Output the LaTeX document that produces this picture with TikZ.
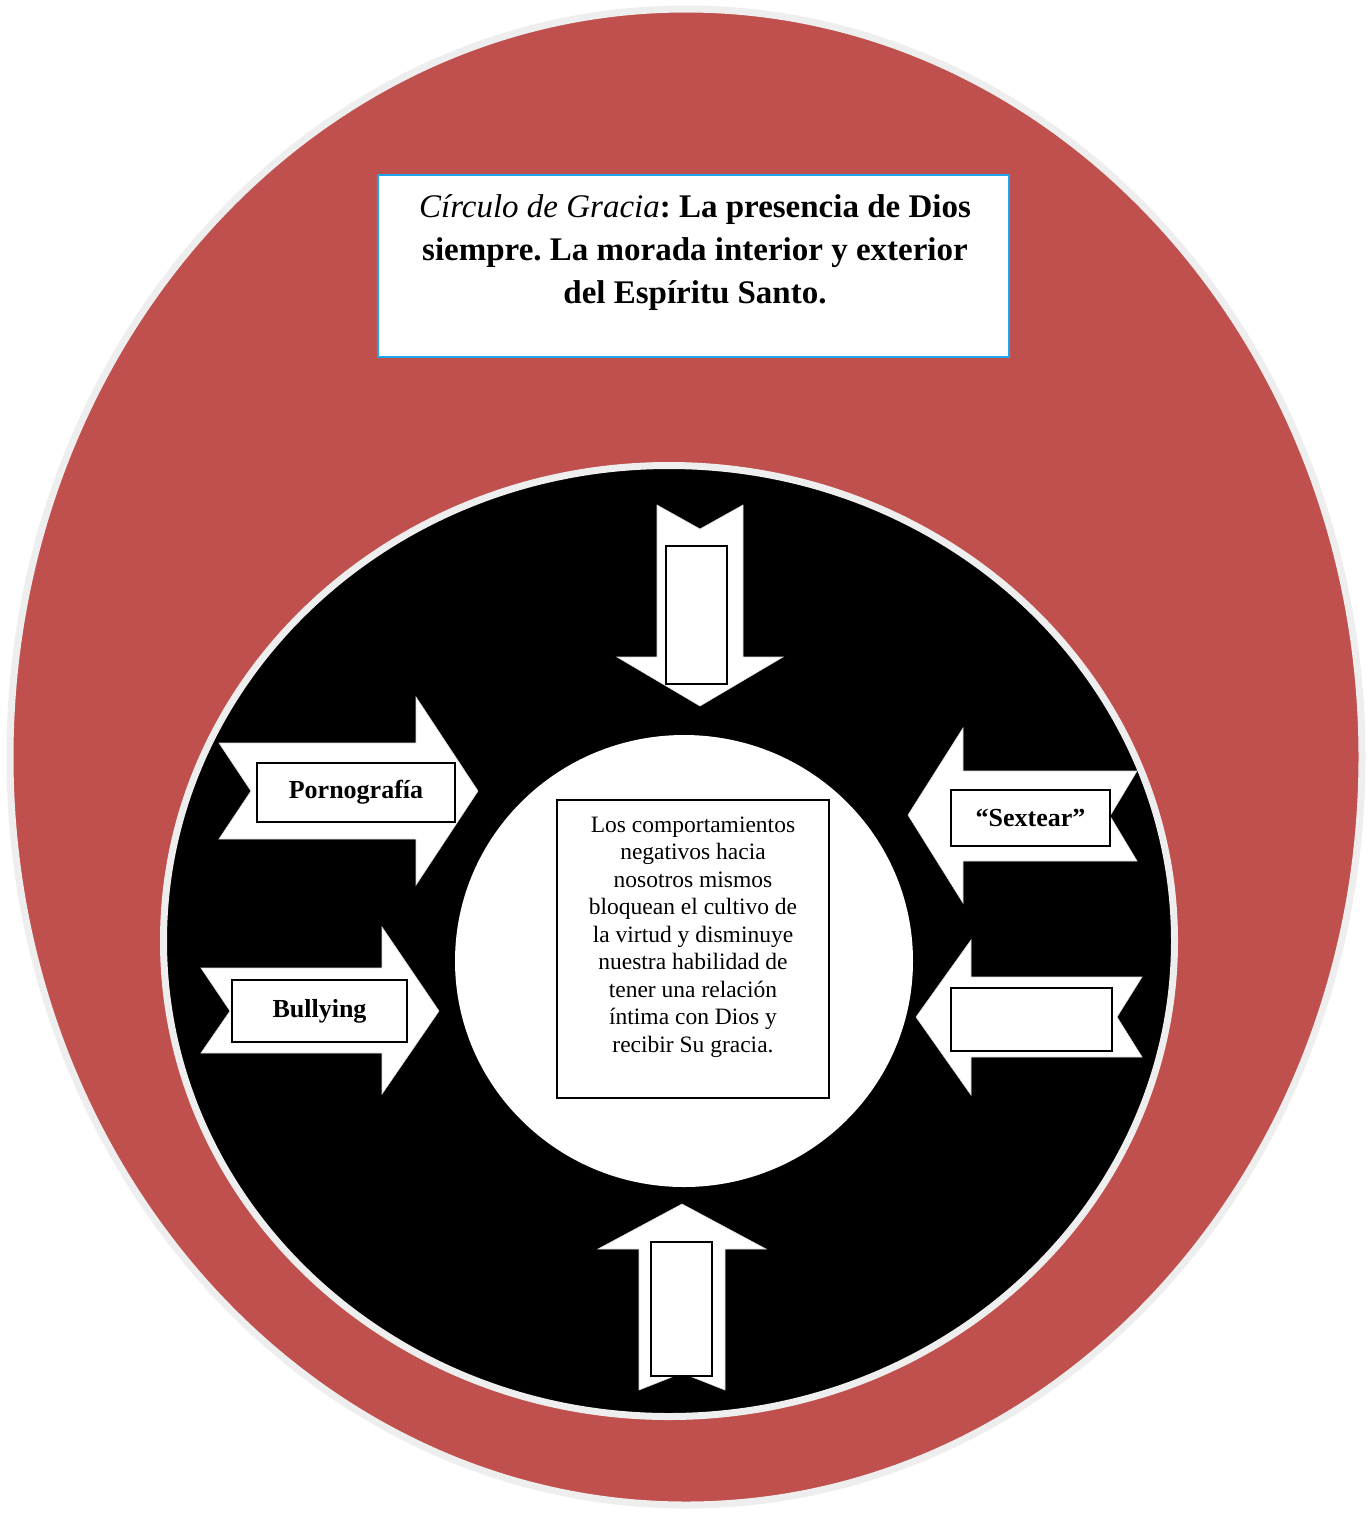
\documentclass[tikz,border=0pt]{standalone}
\usepackage{fontspec}
\setmainfont{Liberation Serif}
\frenchspacing
\definecolor{ringred}{RGB}{192,80,77}
\definecolor{edgegray}{RGB}{238,238,238}
\definecolor{titleblue}{RGB}{30,165,235}
\tikzset{
  arrowshape/.style={fill=white, draw=white!85!black, line width=0.6pt, line join=miter},
  labelbox/.style={draw=black, line width=2pt, fill=white, inner sep=0pt},
}
\begin{document}
\begin{tikzpicture}[x=1pt,y=-1pt]
\useasboundingbox (0,0) rectangle (1372,1516);
% outer circle of grace
\fill[white] (0,0) rectangle (1372,1516);
\draw[fill=ringred, draw=edgegray, line width=7pt] (686,757) ellipse [x radius=676, y radius=748];
% black ring
\draw[fill=black, draw=edgegray, line width=7pt] (669,941) ellipse [x radius=505.5, y radius=475.5];
% white centre
\fill[white] (684,961) ellipse [x radius=229, y radius=226];

% title
\node[draw=titleblue, line width=2pt, fill=white, minimum width=631pt, minimum height=182pt, inner sep=0pt] (title) at (693.5,266) {};
\node[align=center, font=\fontsize{33}{43}\selectfont\bfseries] (titletext) at (695,253)
  {\textit{\mdseries Círculo de Gracia}: La presencia de Dios\\siempre. La morada interior y exterior\\del Espíritu Santo.};

% centre box
\node[draw=black, line width=1.5pt, fill=white, minimum width=272pt, minimum height=298pt, inner sep=0pt] (centre) at (693,949) {};
\node[align=center, font=\fontsize{23.5}{27.5}\selectfont] (centretext) at (693,937)
  {Los comportamientos\\negativos hacia\\nosotros mismos\\bloquean el cultivo de\\la virtud y disminuye\\nuestra habilidad de\\tener una relación\\íntima con Dios y\\recibir Su gracia.};

% arrows
\draw[arrowshape] (657,505) -- (700,529) -- (743,505) -- (743,657) -- (783,657) -- (700,706) -- (617,657) -- (657,657) -- cycle;
\draw[arrowshape] (682,1204) -- (766,1249) -- (725,1249) -- (725,1390) -- (682,1373) -- (639,1390) -- (639,1249) -- (598,1249) -- cycle;
\draw[arrowshape] (219,743) -- (416,743) -- (416,697) -- (478,791) -- (416,885) -- (416,839) -- (219,839) -- (251,791) -- cycle;
\draw[arrowshape] (201,968) -- (382,968) -- (382,927) -- (439,1011) -- (382,1094) -- (382,1053) -- (201,1053) -- (230,1011) -- cycle;
\draw[arrowshape] (908,815) -- (963,728) -- (963,771) -- (1137,771) -- (1110,816) -- (1137,861) -- (963,861) -- (963,903) -- cycle;
\draw[arrowshape] (916,1017) -- (971,940) -- (971,977) -- (1142,977) -- (1117,1017) -- (1142,1057) -- (971,1057) -- (971,1095) -- cycle;

% label boxes
\node[labelbox, minimum width=61pt, minimum height=138pt] (topbox) at (696.5,615) {};
\node[labelbox, minimum width=61pt, minimum height=134pt] (bottombox) at (681.5,1309) {};
\node[labelbox, minimum width=198pt, minimum height=59pt, font=\fontsize{26}{30}\selectfont\bfseries] (porno) at (356,792.5) {Pornografía};
\node[labelbox, minimum width=175pt, minimum height=62pt, font=\fontsize{26}{30}\selectfont\bfseries] (bully) at (319.5,1011) {Bullying};
\node[labelbox, minimum width=159pt, minimum height=56pt, font=\fontsize{26}{30}\selectfont\bfseries] (sext) at (1030.5,818) {“Sextear”};
\node[labelbox, minimum width=161pt, minimum height=63pt] (rightbox) at (1031.5,1019.5) {};
\end{tikzpicture}
\end{document}
